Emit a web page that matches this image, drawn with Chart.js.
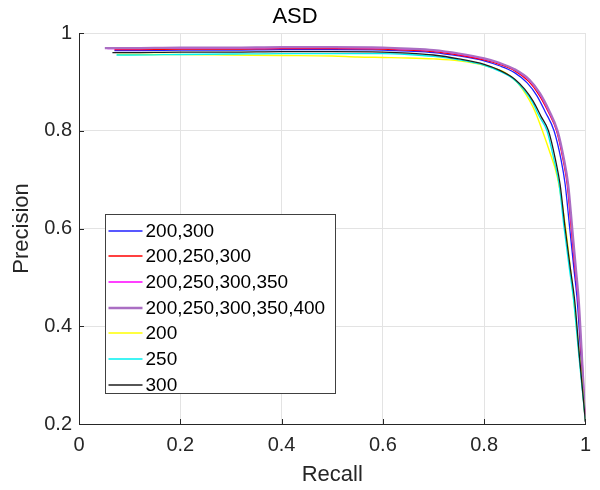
<!DOCTYPE html>
<html>
<head>
<meta charset="utf-8">
<script src="https://cdn.jsdelivr.net/npm/chart.js@4"></script>
<style>
  body { margin: 0; background: #fff; }
</style>
</head>
<body>
<canvas id="prChart" width="600" height="490"></canvas>
<script>
/* ================= DATA ================= */

const seriesLabels = [ '200,300', '200,250,300', '200,250,300,350', '200,250,300,350,400', '200', '250', '300' ];

const recall200_300 = [ 0.07, 0.10, 0.20, 0.30, 0.40, 0.50, 0.60, 0.65, 0.70, 0.75, 0.80, 0.83, 0.86, 0.885, 0.904, 0.921, 0.938, 0.952, 0.960, 0.969, 0.977, 0.984, 0.991, 1.0 ];
const prec200_300   = [ 0.964, 0.964, 0.965, 0.965, 0.966, 0.966, 0.965, 0.963, 0.960, 0.953, 0.943, 0.933, 0.919, 0.898, 0.872, 0.838, 0.80, 0.74, 0.69, 0.60, 0.52, 0.45, 0.34, 0.205 ];

const recall200_250_300 = [ 0.07, 0.10, 0.20, 0.30, 0.40, 0.50, 0.60, 0.65, 0.70, 0.75, 0.80, 0.83, 0.86, 0.888, 0.908, 0.926, 0.943, 0.956, 0.964, 0.972, 0.979, 0.986, 0.992, 1.0 ];
const prec200_250_300   = [ 0.966, 0.966, 0.967, 0.967, 0.968, 0.968, 0.967, 0.965, 0.962, 0.955, 0.945, 0.936, 0.923, 0.901, 0.874, 0.840, 0.80, 0.74, 0.69, 0.60, 0.52, 0.45, 0.34, 0.205 ];

const recall200_350 = [ 0.056, 0.10, 0.20, 0.30, 0.40, 0.50, 0.60, 0.65, 0.70, 0.75, 0.80, 0.83, 0.86, 0.889, 0.909, 0.927, 0.944, 0.957, 0.965, 0.973, 0.980, 0.986, 0.993, 1.0 ];
const prec200_350   = [ 0.968, 0.968, 0.969, 0.969, 0.970, 0.970, 0.969, 0.967, 0.964, 0.957, 0.947, 0.938, 0.925, 0.903, 0.876, 0.841, 0.80, 0.74, 0.69, 0.60, 0.52, 0.45, 0.34, 0.205 ];

const recall200_400 = [ 0.051, 0.10, 0.20, 0.30, 0.40, 0.50, 0.60, 0.65, 0.70, 0.75, 0.80, 0.83, 0.86, 0.89, 0.91, 0.928, 0.945, 0.958, 0.966, 0.974, 0.981, 0.987, 0.993, 1.0 ];
const prec200_400   = [ 0.969, 0.969, 0.970, 0.970, 0.971, 0.971, 0.970, 0.968, 0.965, 0.958, 0.948, 0.939, 0.926, 0.904, 0.877, 0.842, 0.80, 0.74, 0.69, 0.60, 0.52, 0.45, 0.34, 0.205 ];

const recall200 = [ 0.075, 0.10, 0.20, 0.30, 0.40, 0.50, 0.55, 0.60, 0.65, 0.70, 0.75, 0.80, 0.843, 0.866, 0.889, 0.902, 0.915, 0.928, 0.945, 0.961, 0.970, 0.977, 0.989, 1.0 ];
const prec200   = [ 0.956, 0.956, 0.956, 0.955, 0.954, 0.953, 0.951, 0.950, 0.949, 0.947, 0.943, 0.934, 0.918, 0.898, 0.863, 0.836, 0.80, 0.761, 0.703, 0.60, 0.52, 0.454, 0.33, 0.205 ];

const recall250 = [ 0.074, 0.10, 0.20, 0.30, 0.40, 0.50, 0.60, 0.65, 0.70, 0.75, 0.80, 0.83, 0.86, 0.878, 0.895, 0.909, 0.924, 0.938, 0.948, 0.958, 0.968, 0.977, 0.987, 1.0 ];
const prec250   = [ 0.955, 0.955, 0.956, 0.957, 0.958, 0.958, 0.958, 0.956, 0.952, 0.945, 0.934, 0.922, 0.904, 0.884, 0.859, 0.829, 0.80, 0.74, 0.69, 0.60, 0.52, 0.45, 0.34, 0.205 ];

const recall300 = [ 0.066, 0.10, 0.20, 0.30, 0.40, 0.50, 0.60, 0.65, 0.70, 0.75, 0.80, 0.83, 0.86, 0.88, 0.897, 0.912, 0.927, 0.941, 0.950, 0.960, 0.970, 0.979, 0.988, 1.0 ];
const prec300   = [ 0.960, 0.960, 0.961, 0.961, 0.962, 0.962, 0.961, 0.959, 0.955, 0.947, 0.936, 0.924, 0.906, 0.885, 0.860, 0.830, 0.80, 0.74, 0.69, 0.60, 0.52, 0.45, 0.34, 0.205 ];

const xTickValues = [ 0, 0.2, 0.4, 0.6, 0.8, 1 ];
const xTickLabels = [ '0', '0.2', '0.4', '0.6', '0.8', '1' ];
const yTickValues = [ 0.2, 0.4, 0.6, 0.8, 1 ];
const yTickLabels = [ '0.2', '0.4', '0.6', '0.8', '1' ];

/* ================= STYLE ================= */

const seriesRecall = [ recall200_300, recall200_250_300, recall200_350, recall200_400, recall200, recall250, recall300 ];
const seriesPrec = [ prec200_300, prec200_250_300, prec200_350, prec200_400, prec200, prec250, prec300 ];
const seriesColors = [ '#2020ff', '#ff0000', '#ff00ff', 'rgb(170,110,195)', '#ffff00', '#00f0f0', '#1e1e1e' ];
const seriesWidths = [ 1.3, 1.3, 1.3, 2.2, 1.4, 1.3, 1.3 ];

const FONT = "'Liberation Sans', Arial, Helvetica, sans-serif";
const AXIS_COLOR = '#262626';
const GRID_COLOR = '#e3e3e3';

let datasets = seriesLabels.map( ( label, i ) => ( {
    label: label,
    data: seriesRecall[ i ].map( ( r, j ) => ( { x: r, y: seriesPrec[ i ][ j ] } ) ),
    borderColor: seriesColors[ i ],
    backgroundColor: seriesColors[ i ],
    borderWidth: seriesWidths[ i ],
    pointRadius: 0,
    cubicInterpolationMode: 'monotone',
    order: seriesLabels.length - i
} ) );

// small inward tick marks, like the original axes
const innerTicks = {
    id: 'innerTicks',
    afterDraw( chart ) {
        const { ctx, chartArea, scales } = chart;
        ctx.save();
        ctx.strokeStyle = AXIS_COLOR;
        ctx.lineWidth = 1;
        ctx.beginPath();
        xTickValues.forEach( v => {
            let px = Math.round( scales.x.getPixelForValue( v ) ) + 0.5;
            ctx.moveTo( px, chartArea.bottom );
            ctx.lineTo( px, chartArea.bottom - 5 );
        } );
        yTickValues.forEach( v => {
            let py = Math.round( scales.y.getPixelForValue( v ) ) + 0.5;
            ctx.moveTo( chartArea.left, py );
            ctx.lineTo( chartArea.left + 5, py );
        } );
        ctx.stroke();
        ctx.restore();
    }
};

// legend box drawn inside the plot
const boxLegend = {
    id: 'boxLegend',
    afterDraw( chart ) {
        const { ctx, scales } = chart;
        let left = Math.round( scales.x.getPixelForValue( 0.052 ) ) + 0.5;
        let top = Math.round( scales.y.getPixelForValue( 0.63 ) ) + 0.5;
        let w = 230, h = 179, rowH = 25.7;
        ctx.save();
        ctx.fillStyle = '#ffffff';
        ctx.fillRect( left, top, w, h );
        ctx.strokeStyle = '#404040';
        ctx.lineWidth = 1;
        ctx.strokeRect( left, top, w, h );
        ctx.font = '19px ' + FONT;
        ctx.textBaseline = 'middle';
        seriesLabels.forEach( ( label, i ) => {
            let cy = Math.round( top + 16 + i * rowH );
            ctx.strokeStyle = seriesColors[ i ];
            ctx.lineWidth = seriesWidths[ i ] > 2 ? 2.5 : 1.5;
            ctx.beginPath();
            ctx.moveTo( left + 3, cy );
            ctx.lineTo( left + 37, cy );
            ctx.stroke();
            ctx.fillStyle = '#000000';
            ctx.fillText( label, left + 40, cy + 1 );
        } );
        ctx.restore();
    }
};

const ctx = document.getElementById( 'prChart' );

let prChart = new Chart( ctx, {
    type: 'line',
    data: { datasets: datasets },
    options: {
        responsive: false,
        animation: false,
        devicePixelRatio: 1,
        layout: { padding: { top: 0, right: 10, bottom: 0, left: 0 } },
        plugins: {
            legend: { display: false },
            tooltip: { enabled: false },
            title: {
                display: true,
                text: 'ASD',
                color: '#000000',
                font: { family: FONT, size: 22, weight: 'normal', lineHeight: 1 },
                padding: { top: 6, bottom: 5 }
            }
        },
        scales: {
            x: {
                type: 'linear',
                min: 0,
                max: 1,
                afterBuildTicks: scale => { scale.ticks = xTickValues.map( v => ( { value: v } ) ); },
                afterFit: scale => { scale.height = 66; },
                ticks: {
                    color: AXIS_COLOR,
                    font: { family: FONT, size: 20 },
                    padding: 9,
                    maxRotation: 0,
                    callback: ( v, i ) => xTickLabels[ i ]
                },
                grid: { color: GRID_COLOR, drawTicks: false },
                border: { color: AXIS_COLOR, width: 1 },
                title: {
                    display: true,
                    text: 'Recall',
                    color: AXIS_COLOR,
                    font: { family: FONT, size: 22, lineHeight: 1 },
                    padding: { top: 0, bottom: 4 }
                }
            },
            y: {
                type: 'linear',
                min: 0.2,
                max: 1,
                afterBuildTicks: scale => { scale.ticks = yTickValues.map( v => ( { value: v } ) ); },
                afterFit: scale => { scale.width = 79; },
                ticks: {
                    color: AXIS_COLOR,
                    font: { family: FONT, size: 20 },
                    padding: 7,
                    callback: ( v, i ) => yTickLabels[ i ]
                },
                grid: { color: GRID_COLOR, drawTicks: false },
                border: { color: AXIS_COLOR, width: 1 },
                title: {
                    display: true,
                    text: 'Precision',
                    color: AXIS_COLOR,
                    font: { family: FONT, size: 22, lineHeight: 1 },
                    padding: { top: 11, bottom: 0 }
                }
            }
        }
    },
    plugins: [ innerTicks, boxLegend ]
} );
</script>
</body>
</html>
